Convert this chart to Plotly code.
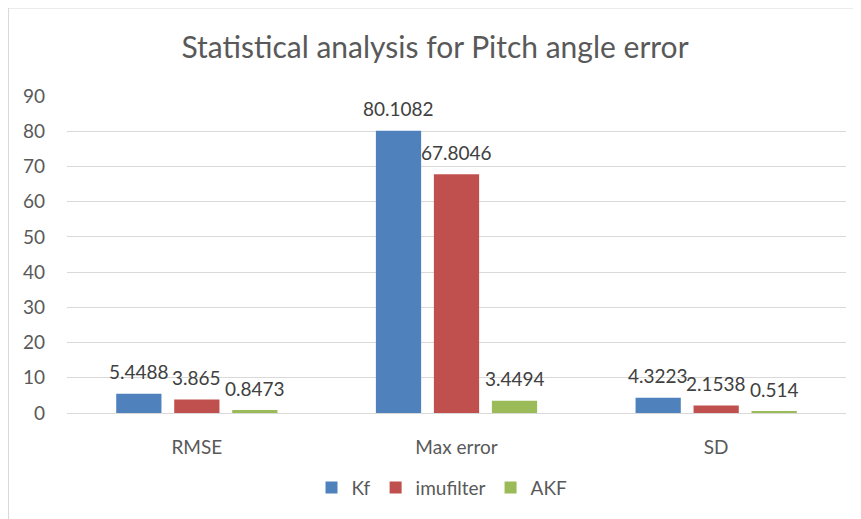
import plotly.graph_objects as go

categories = ["RMSE", "Max error", "SD"]
kf = [5.4488, 80.1082, 4.3223]
imufilter = [3.865, 67.8046, 2.1538]
akf = [0.8473, 3.4494, 0.514]
series_names = ["Kf", "imufilter", "AKF"]
series_values = [kf, imufilter, akf]
colors = ["#4F81BD", "#C0504D", "#9BBB59"]
y_ticks = [0, 10, 20, 30, 40, 50, 60, 70, 80, 90]

FONT = "Lato"
OFF = 8  # page body margin
fig = go.Figure()
for name, vals, col in zip(series_names, series_values, colors):
    fig.add_trace(go.Bar(x=categories, y=vals, name=name,
                         marker=dict(color=col, line=dict(width=0))))

# data labels above bars
annotations = []
offsets = [-58, 0, 58]
for vals, off in zip(series_values, offsets):
    for c, v in zip(categories, vals):
        annotations.append(dict(x=c, y=v, xref="x", yref="y", text=f"{v:g}",
                                showarrow=False, xshift=off, yshift=22,
                                yanchor="middle",
                                font=dict(family=FONT, size=19, color="#404040")))

W, H = 861 - OFF, 519 - OFF
L, R, T, B = 67 - OFF, 15, 96 - OFF, 104
pw, ph = W - L - R, H - T - B

def px_x(p):
    return (p - OFF - L) / pw

def px_y(p):
    return (519 - B - p) / ph

shapes = [
    dict(type="line", xref="paper", yref="paper", x0=px_x(8), x1=px_x(8),
         y0=px_y(7), y1=px_y(530), line=dict(color="#D9D9D9", width=2)),
    dict(type="line", xref="paper", yref="paper", x0=px_x(8), x1=px_x(870),
         y0=px_y(7), y1=px_y(7), line=dict(color="#D9D9D9", width=2)),
]

fig.update_layout(
    width=W, height=H,
    margin=dict(l=L, r=R, t=T, b=B),
    paper_bgcolor="white", plot_bgcolor="white",
    title=dict(text="Statistical analysis for Pitch angle error",
               x=(435 - OFF) / W, xanchor="center", y=1 - (47 - OFF) / H,
               yanchor="middle",
               font=dict(family=FONT, size=30, color="#595959")),
    barmode="group", bargap=0.33, bargroupgap=0.22,
    showlegend=True,
    legend=dict(orientation="h", x=px_x(442), xanchor="center",
                y=px_y(490), yanchor="middle",
                font=dict(family=FONT, size=19, color="#595959"),
                itemwidth=30, traceorder="normal"),
    annotations=annotations,
    shapes=shapes,
    font=dict(family=FONT, color="#595959"),
)
fig.update_xaxes(showgrid=False, showline=True, linecolor="#D9D9D9", linewidth=1,
                 ticks="", tickfont=dict(family=FONT, size=19, color="#595959"),
                 ticklabelstandoff=17)
fig.update_yaxes(range=[0, 90], tickvals=y_ticks, showgrid=True,
                 gridcolor="#D9D9D9", gridwidth=1, zeroline=False,
                 showline=False, ticks="",
                 tickfont=dict(family=FONT, size=19, color="#595959"),
                 ticklabelstandoff=21)

fig.write_html("out.html")
